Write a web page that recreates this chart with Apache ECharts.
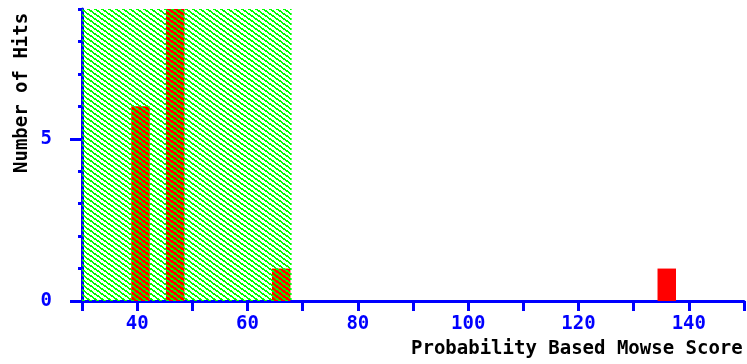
<!DOCTYPE html>
<html>
<head>
<meta charset="utf-8">
<script src="https://cdn.jsdelivr.net/npm/echarts@6/dist/echarts.min.js"></script>
<style>
html,body{margin:0;padding:0;background:#fff;}
#c{width:747px;height:364px;}
</style>
</head>
<body>
<div id="c"></div>
<script>
// Data
var scores = [40.6, 46.9, 66.1, 136.0];
var hits = [6, 9, 1, 1];
var thresholdRange = [30, 68];
var xMin = 30, xMax = 150;
var yMin = 0, yMax = 9;
var xTitle = 'Probability Based Mowse Score';
var yTitle = 'Number of Hits';

// hatch pattern
var tile = document.createElement('canvas');
tile.width = 35; tile.height = 35;
var tctx = tile.getContext('2d');
var img = tctx.createImageData(35, 35);
for (var y = 0; y < 35; y++) {
  for (var x = 0; x < 35; x++) {
    var v = ((7 * y - 5 * x) % 35 + 35) % 35;
    var i = (y * 35 + x) * 4;
    if (v < 14) { img.data[i] = 0; img.data[i+1] = 255; img.data[i+2] = 0; img.data[i+3] = 255; }
    else { img.data[i+3] = 0; }
  }
}
tctx.putImageData(img, 0, 0);

var FONT = 'DejaVu Sans Mono';
var BLUE = '#0000ff';
var chart = echarts.init(document.getElementById('c'), null, {renderer: 'canvas'});
var barData = scores.map(function (s, k) { return [s, hits[k]]; });

chart.setOption({
  animation: false,
  backgroundColor: '#ffffff',
  grid: {left: 82, right: 3, top: 9, bottom: 63, containLabel: false},
  xAxis: {
    type: 'value', min: xMin, max: xMax, interval: 10,
    axisLine: {show: true, onZero: false, lineStyle: {color: BLUE, width: 3}},
    axisTick: {show: true, length: 10, lineStyle: {color: BLUE, width: 3}},
    splitLine: {show: false},
    axisLabel: {
      color: BLUE, fontFamily: FONT, fontSize: 19, fontWeight: 'bold', margin: 14,
      showMinLabel: true, showMaxLabel: true,
      formatter: function (v) { return v % 20 === 0 ? String(v) : ''; }
    }
  },
  yAxis: [{
    type: 'value', min: yMin, max: yMax, interval: 1, position: 'left',
    axisLine: {show: true, lineStyle: {color: BLUE, width: 3}},
    axisTick: {show: true, length: 4, lineStyle: {color: BLUE, width: 3}},
    splitLine: {show: false},
    axisLabel: {show: false}
  }, {
    type: 'value', min: yMin, max: yMax, interval: 5, position: 'left',
    axisLine: {show: false},
    axisTick: {show: true, length: 12, lineStyle: {color: BLUE, width: 3}},
    splitLine: {show: false},
    axisLabel: {color: BLUE, fontFamily: FONT, fontSize: 19, fontWeight: 'bold', margin: 30,
      showMaxLabel: false}
  }],
  series: [{
    type: 'bar',
    data: barData,
    barWidth: 18.5,
    itemStyle: {color: '#ff0000'},
    z: 2,
    markArea: {
      silent: true,
      z: 10,
      itemStyle: {color: {image: tile, repeat: 'repeat'}, borderWidth: 0},
      data: [[{xAxis: thresholdRange[0]}, {xAxis: thresholdRange[1]}]]
    }
  }],
  graphic: [{
    type: 'text', left: 411, top: 340,
    style: {text: xTitle, fill: '#000', font: 'bold 19px "' + FONT + '"'}
  }, {
    type: 'text', x: 13, y: 173, rotation: Math.PI / 2,
    style: {text: yTitle, fill: '#000', font: 'bold 19px "' + FONT + '"', textVerticalAlign: 'top'}
  }]
});
</script>
</body>
</html>
